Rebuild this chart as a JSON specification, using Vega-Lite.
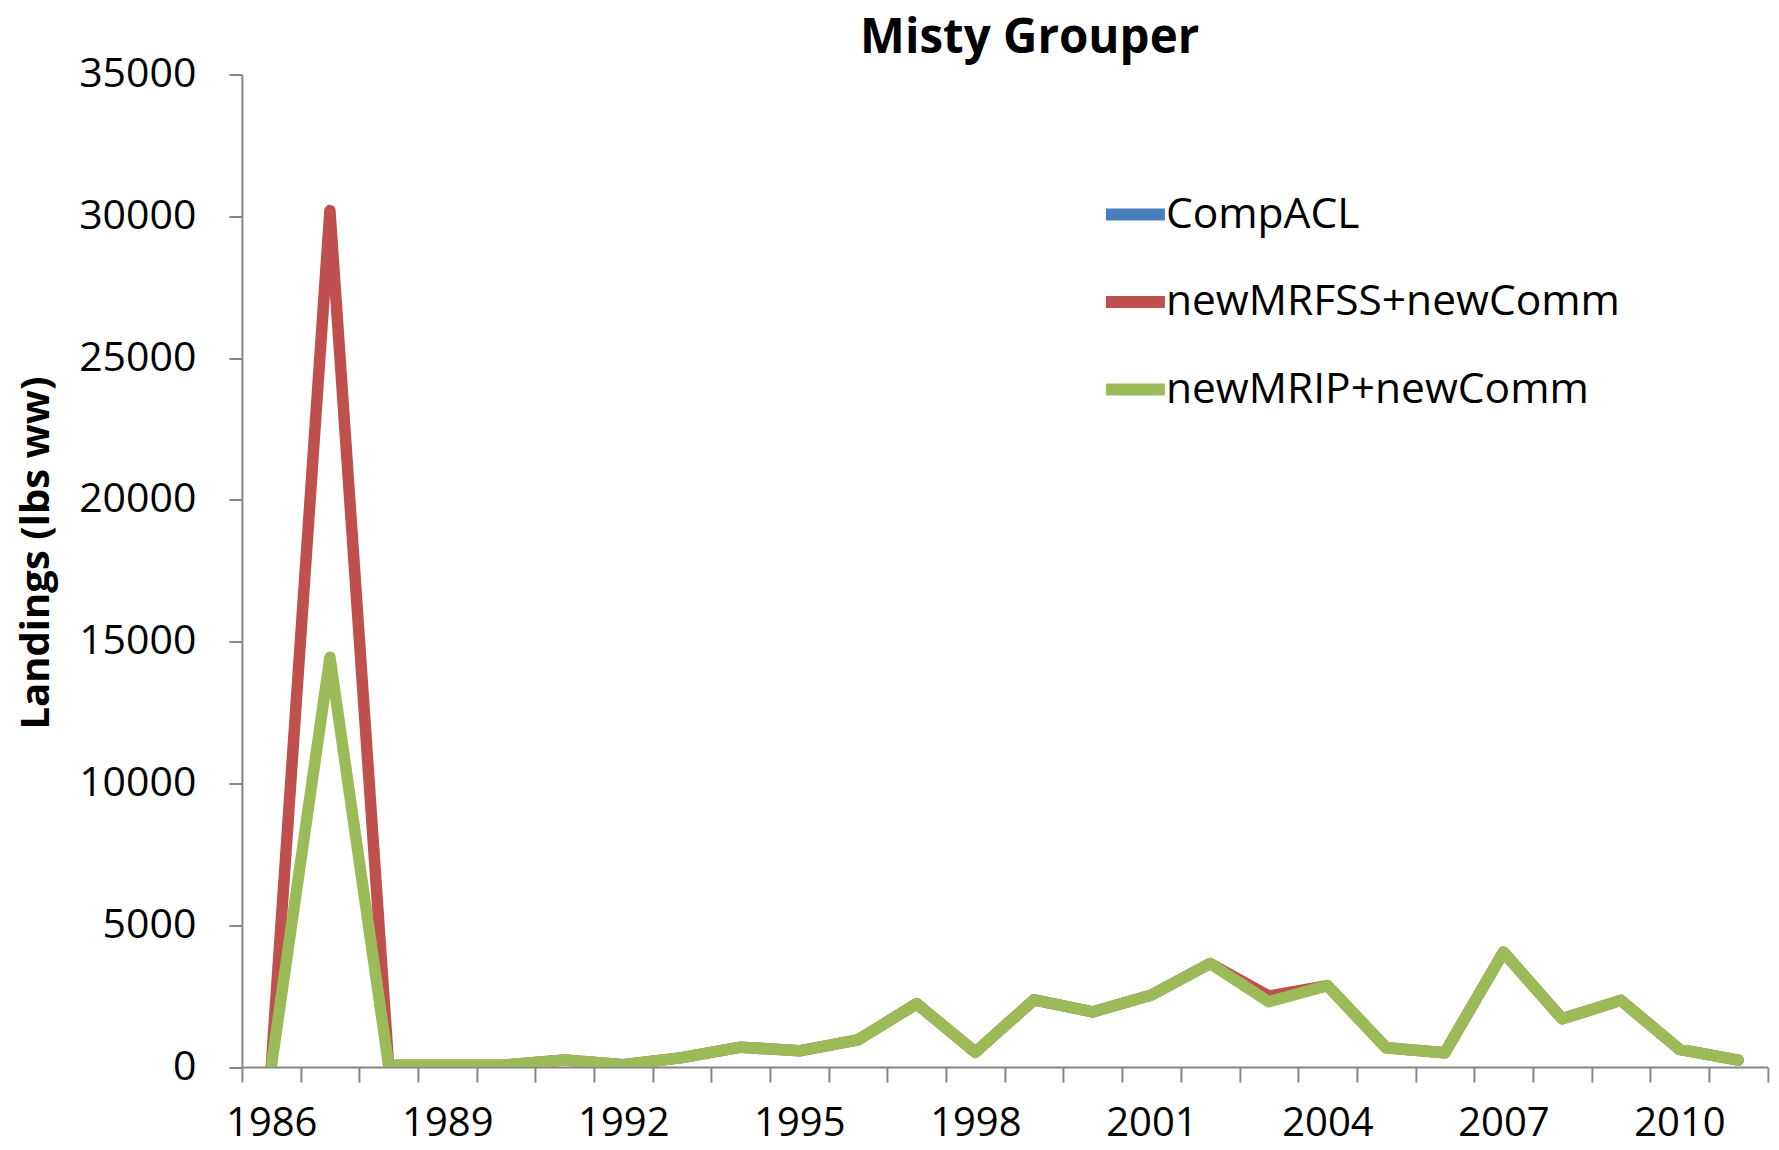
{
  "$schema": "https://vega.github.io/schema/vega-lite/v6.json",
  "width": 1525.6,
  "height": 992.5,
  "autosize": {"type": "none"},
  "padding": {"left": 241.9, "top": 74.5, "right": 11.5, "bottom": 83},
  "background": "white",
  "title": {
    "text": "Misty Grouper",
    "font": "Open Sans",
    "fontSize": 47.5,
    "fontWeight": "bold",
    "color": "black",
    "anchor": "middle",
    "dx": 25,
    "offset": -9
  },
  "data": {
    "values": [
      {"year": 1986, "series": "newMRFSS+newComm", "value": 0},
      {"year": 1987, "series": "newMRFSS+newComm", "value": 30200},
      {"year": 1988, "series": "newMRFSS+newComm", "value": 60},
      {"year": 1989, "series": "newMRFSS+newComm", "value": 60},
      {"year": 1990, "series": "newMRFSS+newComm", "value": 70},
      {"year": 1991, "series": "newMRFSS+newComm", "value": 250},
      {"year": 1992, "series": "newMRFSS+newComm", "value": 80},
      {"year": 1993, "series": "newMRFSS+newComm", "value": 330},
      {"year": 1994, "series": "newMRFSS+newComm", "value": 700},
      {"year": 1995, "series": "newMRFSS+newComm", "value": 570},
      {"year": 1996, "series": "newMRFSS+newComm", "value": 960},
      {"year": 1997, "series": "newMRFSS+newComm", "value": 2230},
      {"year": 1998, "series": "newMRFSS+newComm", "value": 520},
      {"year": 1999, "series": "newMRFSS+newComm", "value": 2370},
      {"year": 2000, "series": "newMRFSS+newComm", "value": 1940},
      {"year": 2001, "series": "newMRFSS+newComm", "value": 2540},
      {"year": 2002, "series": "newMRFSS+newComm", "value": 3650},
      {"year": 2003, "series": "newMRFSS+newComm", "value": 2500},
      {"year": 2004, "series": "newMRFSS+newComm", "value": 2870},
      {"year": 2005, "series": "newMRFSS+newComm", "value": 680},
      {"year": 2006, "series": "newMRFSS+newComm", "value": 500},
      {"year": 2007, "series": "newMRFSS+newComm", "value": 4050},
      {"year": 2008, "series": "newMRFSS+newComm", "value": 1700},
      {"year": 2009, "series": "newMRFSS+newComm", "value": 2350},
      {"year": 2010, "series": "newMRFSS+newComm", "value": 620},
      {"year": 2011, "series": "newMRFSS+newComm", "value": 240},
      {"year": 1986, "series": "newMRIP+newComm", "value": 0},
      {"year": 1987, "series": "newMRIP+newComm", "value": 14450},
      {"year": 1988, "series": "newMRIP+newComm", "value": 60},
      {"year": 1989, "series": "newMRIP+newComm", "value": 60},
      {"year": 1990, "series": "newMRIP+newComm", "value": 70},
      {"year": 1991, "series": "newMRIP+newComm", "value": 250},
      {"year": 1992, "series": "newMRIP+newComm", "value": 80},
      {"year": 1993, "series": "newMRIP+newComm", "value": 330},
      {"year": 1994, "series": "newMRIP+newComm", "value": 700},
      {"year": 1995, "series": "newMRIP+newComm", "value": 570},
      {"year": 1996, "series": "newMRIP+newComm", "value": 960},
      {"year": 1997, "series": "newMRIP+newComm", "value": 2230},
      {"year": 1998, "series": "newMRIP+newComm", "value": 520},
      {"year": 1999, "series": "newMRIP+newComm", "value": 2370},
      {"year": 2000, "series": "newMRIP+newComm", "value": 1940},
      {"year": 2001, "series": "newMRIP+newComm", "value": 2540},
      {"year": 2002, "series": "newMRIP+newComm", "value": 3650},
      {"year": 2003, "series": "newMRIP+newComm", "value": 2300},
      {"year": 2004, "series": "newMRIP+newComm", "value": 2870},
      {"year": 2005, "series": "newMRIP+newComm", "value": 680},
      {"year": 2006, "series": "newMRIP+newComm", "value": 500},
      {"year": 2007, "series": "newMRIP+newComm", "value": 4050},
      {"year": 2008, "series": "newMRIP+newComm", "value": 1700},
      {"year": 2009, "series": "newMRIP+newComm", "value": 2350},
      {"year": 2010, "series": "newMRIP+newComm", "value": 620},
      {"year": 2011, "series": "newMRIP+newComm", "value": 240}
    ]
  },
  "mark": {"type": "line", "strokeWidth": 11.5, "strokeCap": "round", "strokeJoin": "round", "clip": true},
  "encoding": {
    "x": {
      "field": "year",
      "type": "ordinal",
      "bandPosition": 0.5,
      "scale": {"type": "band", "paddingInner": 0, "paddingOuter": 0},
      "axis": {
        "title": null,
        "tickBand": "extent",
        "labelExpr": "(datum.value - 1986) % 3 === 0 ? datum.label : ''",
        "labelAngle": 0,
        "labelOverlap": false,
        "labelFlush": false,
        "labelFont": "Open Sans",
        "labelFontSize": 40,
        "labelColor": "black",
        "labelPadding": 21,
        "tickSize": 15,
        "tickWidth": 2,
        "tickColor": "#868686",
        "domainColor": "#868686",
        "domainWidth": 2,
        "grid": false
      }
    },
    "y": {
      "field": "value",
      "type": "quantitative",
      "scale": {"domain": [0, 35000], "nice": false},
      "axis": {
        "values": [0, 5000, 10000, 15000, 20000, 25000, 30000, 35000],
        "format": "d",
        "grid": false,
        "labelFont": "Open Sans",
        "labelFontSize": 41,
        "labelColor": "black",
        "labelPadding": 33,
        "tickSize": 13,
        "tickWidth": 2,
        "tickColor": "#868686",
        "domainColor": "#868686",
        "domainWidth": 2,
        "title": "Landings (lbs ww)",
        "titleFont": "Open Sans",
        "titleFontSize": 40,
        "titleFontWeight": "bold",
        "titleColor": "black",
        "titleAngle": -90,
        "titleX": -193,
        "titleY": 478,
        "titleBaseline": "alphabetic",
        "titleAlign": "center"
      }
    },
    "color": {
      "field": "series",
      "type": "nominal",
      "scale": {
        "domain": ["CompACL", "newMRFSS+newComm", "newMRIP+newComm"],
        "range": ["#4A7EBB", "#C0504D", "#9BBB59"]
      },
      "legend": {
        "orient": "none",
        "legendX": 858,
        "legendY": 104.5,
        "title": null,
        "padding": 0,
        "symbolType": "stroke",
        "symbolSize": 3481,
        "symbolStrokeWidth": 12,
        "labelFont": "Open Sans",
        "labelFontSize": 42.5,
        "labelColor": "black",
        "labelLimit": 0,
        "labelOffset": -5,
        "rowPadding": 27.5
      }
    }
  },
  "config": {"view": {"stroke": null}}
}
